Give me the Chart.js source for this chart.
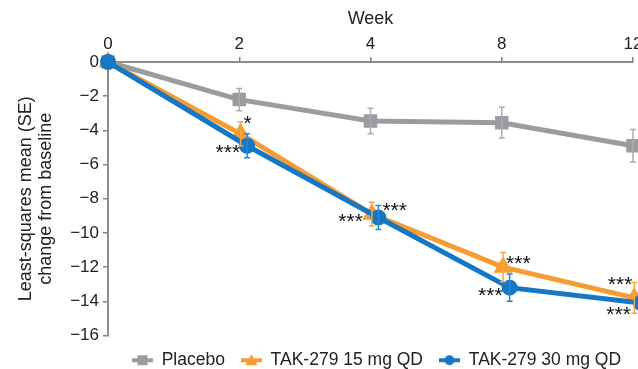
<!DOCTYPE html>
<html>
<head>
<meta charset="utf-8">
<script src="https://cdn.jsdelivr.net/npm/chart.js@4.4.1/dist/chart.umd.min.js"></script>
<style>
  html, body { margin: 0; padding: 0; background: #fff; overflow: hidden; }
  #wrap { width: 690px; height: 379px; }
</style>
</head>
<body>
<div id="wrap"><canvas id="chart"></canvas></div>
<script>
// data
const weekLabels = ['0', '2', '4', '8', '12'];
const placebo = [0, -2.2, -3.45, -3.55, -4.9];
const placeboSE = [0, 0.65, 0.75, 0.9, 0.95];
const tak15 = [0, -4.2, -8.9, -12.0, -13.8];
const tak15SE = [0, 0.7, 0.7, 0.85, 0.9];
const tak30 = [0, -4.9, -9.1, -13.2, -14.1];
const tak30SE = [0, 0.7, 0.7, 0.8, 0.8];
const sig15 = ['', '*', '***', '***', '***'];
const sig30 = ['', '***', '***', '***', '***'];

const GRAY = 'rgb(154,156,159)';
const ORANGE = 'rgb(247,156,48)';
const BLUE = 'rgb(22,119,196)';
const FONT = "'Liberation Sans', Arial, Helvetica, sans-serif";

// small dodge so the markers don't sit on top of each other
function toPoints(values, dodge) {
    return values.map((v, i) => ({ x: i === 0 ? 0 : i + dodge, y: v }));
}

// legend icon: short line with the marker in the middle
function legendIcon(color, style) {
    const c = document.createElement('canvas');
    c.width = 21; c.height = 14;
    const g = c.getContext('2d');
    g.strokeStyle = color;
    g.fillStyle = color;
    g.lineWidth = 4;
    g.beginPath(); g.moveTo(0, 7); g.lineTo(21, 7); g.stroke();
    g.beginPath();
    if (style === 'rect') {
        g.rect(5.5, 2, 10, 10);
    } else if (style === 'triangle') {
        g.moveTo(10.5, 1); g.lineTo(16.5, 12); g.lineTo(4.5, 12); g.closePath();
    } else {
        g.arc(10.5, 7, 5, 0, Math.PI * 2);
    }
    g.fill();
    return c;
}

// error bars + significance stars
const extrasPlugin = {
    id: 'extras',
    afterLayout(chart) {
        // legend sits a little right of the plot centre in the original
        chart.legend.left += 6;
        chart.legend.right += 6;
    },
    afterDatasetsDraw(chart) {
        const ctx = chart.ctx;
        const xs = chart.scales.x, ys = chart.scales.y;
        const bars = [
            { ds: 0, se: placeboSE, color: 'rgb(170,172,175)' },
            { ds: 1, se: tak15SE, color: 'rgb(247,165,70)' },
            { ds: 2, se: tak30SE, color: 'rgb(40,135,210)' }
        ];
        ctx.save();
        ctx.lineWidth = 1.5;
        bars.forEach(b => {
            const pts = chart.data.datasets[b.ds].data;
            ctx.strokeStyle = b.color;
            pts.forEach((p, i) => {
                if (!b.se[i]) return;
                const x = xs.getPixelForValue(p.x);
                const y1 = ys.getPixelForValue(p.y + b.se[i]);
                const y2 = ys.getPixelForValue(p.y - b.se[i]);
                ctx.beginPath();
                ctx.moveTo(x, y1); ctx.lineTo(x, y2);
                ctx.moveTo(x - 3, y1); ctx.lineTo(x + 3, y1);
                ctx.moveTo(x - 3, y2); ctx.lineTo(x + 3, y2);
                ctx.stroke();
            });
        });

        // stars: [dx, dy of glyph centre, align] relative to the marker
        const off15 = [null, [3, -12, 'left'], [-9, 6, 'right'], [3, -5, 'left'], [-2, -15, 'right']];
        const off30 = [null, [-7, 5, 'right'], [4, -9, 'left'], [-7, 6, 'right'], [-10, 10, 'right']];
        ctx.fillStyle = '#111';
        ctx.font = '21px ' + FONT;
        ctx.textBaseline = 'alphabetic';
        const drawStars = (dsIndex, labels, offs) => {
            chart.data.datasets[dsIndex].data.forEach((p, i) => {
                if (!labels[i]) return;
                ctx.textAlign = offs[i][2];
                ctx.fillText(labels[i], xs.getPixelForValue(p.x) + offs[i][0], ys.getPixelForValue(p.y) + offs[i][1] + 8);
            });
        };
        drawStars(1, sig15, off15);
        drawStars(2, sig30, off30);
        ctx.restore();
    }
};

const ctx = document.getElementById('chart').getContext('2d');
new Chart(ctx, {
    type: 'line',
    data: {
        datasets: [
            {
                label: 'Placebo',
                data: toPoints(placebo, 0),
                borderColor: GRAY, backgroundColor: GRAY,
                borderWidth: 5, pointStyle: 'rect', pointRadius: 6,
                order: 3, clip: false, icon: legendIcon(GRAY, 'rect')
            },
            {
                label: 'TAK-279 15 mg QD',
                data: toPoints(tak15, 0.01),
                borderColor: ORANGE, backgroundColor: ORANGE,
                borderWidth: 5, pointStyle: 'triangle', pointRadius: 6,
                order: 2, clip: false, icon: legendIcon(ORANGE, 'triangle')
            },
            {
                label: 'TAK-279 30 mg QD',
                data: toPoints(tak30, 0.06),
                borderColor: BLUE, backgroundColor: BLUE,
                borderWidth: 5, pointStyle: 'circle', pointRadius: 5.5,
                order: 1, clip: false, icon: legendIcon(BLUE, 'circle')
            }
        ]
    },
    options: {
        responsive: true,
        maintainAspectRatio: false,
        animation: false,
        layout: { padding: { left: 12, right: 57, top: 0, bottom: 0 } },
        plugins: {
            tooltip: { enabled: false },
            legend: {
                position: 'bottom',
                fullSize: false,
                labels: {
                    usePointStyle: true,
                    pointStyleWidth: 21,
                    padding: 16,
                    color: '#222',
                    font: { family: FONT, size: 17.5 },
                    sort: (a, b) => a.datasetIndex - b.datasetIndex,
                    generateLabels: (chart) => chart.data.datasets.map((d, i) => ({
                        text: d.label,
                        datasetIndex: i,
                        pointStyle: d.icon,
                        fillStyle: d.borderColor,
                        strokeStyle: d.borderColor,
                        fontColor: '#222',
                        lineWidth: 0,
                        hidden: false
                    }))
                }
            }
        },
        scales: {
            x: {
                type: 'linear',
                position: 'top',
                min: 0,
                max: 4,
                afterFit: (scale) => { scale.height = 62; },
                ticks: {
                    stepSize: 1,
                    padding: 2,
                    color: '#222',
                    font: { family: FONT, size: 17 },
                    callback: (v) => weekLabels[v]
                },
                grid: { drawOnChartArea: false, tickLength: 5, color: 'rgb(130,130,130)', lineWidth: 1.5 },
                border: { color: 'rgb(140,140,140)', width: 2 },
                title: {
                    display: true,
                    text: 'Week',
                    color: '#222',
                    font: { family: FONT, size: 18 },
                    padding: { top: 8, bottom: 2 }
                }
            },
            y: {
                min: -16,
                max: 0,
                afterFit: (scale) => { scale.width = 96; },
                ticks: {
                    stepSize: 2,
                    padding: 4,
                    color: '#222',
                    font: { family: FONT, size: 17 },
                    callback: (v) => String(v).replace('-', '\u2212')
                },
                grid: { drawOnChartArea: false, tickLength: 5, color: 'rgb(130,130,130)', lineWidth: 1.5 },
                border: { color: 'rgb(140,140,140)', width: 2 },
                title: {
                    display: true,
                    text: ['Least-squares mean (SE)', 'change from baseline'],
                    color: '#222',
                    font: { family: FONT, size: 18, lineHeight: 1.1 },
                    padding: { top: 4, bottom: 0 }
                }
            }
        }
    },
    plugins: [extrasPlugin]
});
</script>
</body>
</html>
